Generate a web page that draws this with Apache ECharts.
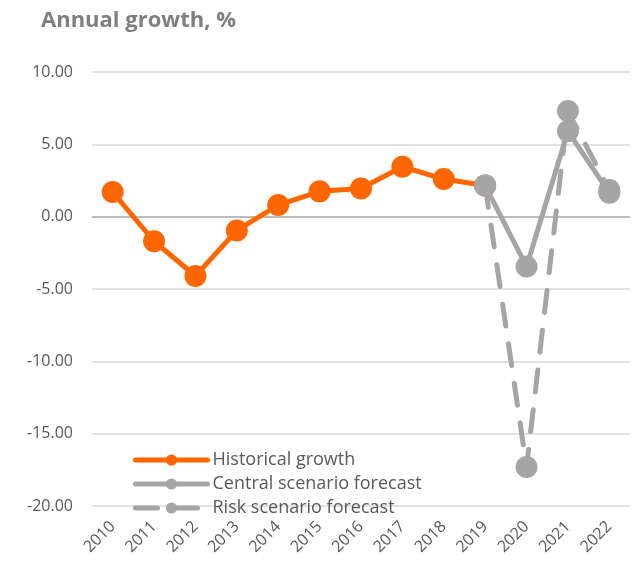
<!DOCTYPE html>
<html>
<head>
<meta charset="utf-8">
<script src="https://cdn.jsdelivr.net/npm/echarts@6/dist/echarts.min.js"></script>
<style>
  html, body { margin: 0; padding: 0; background: #fff; }
  #chart { width: 637px; height: 565px; }
</style>
</head>
<body>
<div id="chart"></div>
<script>
var years = ['2010', '2011', '2012', '2013', '2014', '2015', '2016', '2017', '2018', '2019', '2020', '2021', '2022'];
var historical = [1.7, -1.7, -4.1, -0.95, 0.8, 1.75, 1.95, 3.45, 2.6, 2.15, null, null, null];
var central = [null, null, null, null, null, null, null, null, null, 2.15, -3.45, 5.9, 1.65];
var risk = [null, null, null, null, null, null, null, null, null, 2.15, -17.3, 7.3, 1.85];

var orange = '#ff6600';
var grey = '#a5a5a5';
var textGrey = '#595959';

var chart = echarts.init(document.getElementById('chart'));

function lineSeries(name, data, color, dashed) {
  return {
    name: name,
    type: 'line',
    data: data,
    symbol: 'circle',
    symbolSize: 22,
    showAllSymbol: true,
    connectNulls: false,
    itemStyle: { color: color },
    lineStyle: {
      color: color,
      width: 5,
      type: dashed ? [22, 18] : 'solid',
      cap: 'round'
    },
    emphasis: { disabled: true },
    animation: false
  };
}

chart.setOption({
  title: {
    text: 'Annual growth, %',
    left: 36,
    top: 5,
    textStyle: {
      color: '#7f7f7f',
      fontSize: 22,
      fontWeight: 'bold',
      fontFamily: 'Open Sans'
    }
  },
  legend: {
    orient: 'vertical',
    left: 128,
    top: 446,
    itemWidth: 72,
    itemHeight: 14,
    itemGap: 6,
    lineStyle: { width: 5 },
    textStyle: { color: textGrey, fontSize: 18, fontFamily: 'Open Sans' },
    data: ['Historical growth', 'Central scenario forecast', 'Risk scenario forecast']
  },
  grid: { left: 92, right: 7, top: 72, bottom: 59, containLabel: false },
  xAxis: {
    type: 'category',
    data: years,
    boundaryGap: true,
    axisLine: { show: false },
    axisTick: { show: false },
    axisLabel: {
      rotate: 45,
      color: textGrey,
      fontSize: 16,
      fontFamily: 'Open Sans',
      margin: 18,
      interval: 0
    }
  },
  yAxis: {
    type: 'value',
    min: -20,
    max: 10,
    interval: 5,
    axisLine: { show: false },
    axisTick: { show: false },
    axisLabel: {
      color: textGrey,
      fontSize: 16,
      fontFamily: 'Open Sans',
      margin: 19,
      formatter: function (v) { return v.toFixed(2); }
    },
    splitLine: {
      lineStyle: {
        color: ['#d9d9d9', '#d9d9d9', '#d9d9d9', '#d9d9d9', '#a6a6a6', '#d9d9d9', '#d9d9d9'],
        width: 1.5
      }
    }
  },
  series: [
    lineSeries('Historical growth', historical, orange, false),
    lineSeries('Central scenario forecast', central, grey, false),
    lineSeries('Risk scenario forecast', risk, grey, true)
  ]
});
</script>
</body>
</html>
